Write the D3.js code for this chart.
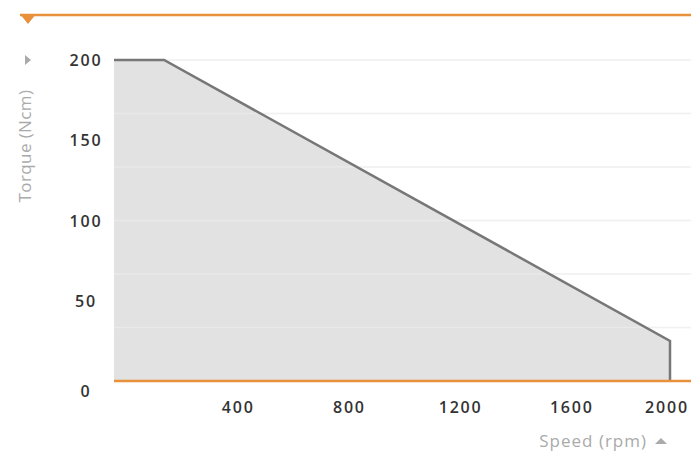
<!DOCTYPE html>
<html><head><meta charset="utf-8">
<script src="https://cdn.jsdelivr.net/npm/d3@7"></script>
<style>body{margin:0;background:#fff;}svg{display:block;}</style>
</head><body>
<svg id="c" width="691" height="457"></svg>
<script>
const speed = [0, 180, 2000, 2000];
const torque = [200, 200, 25, 0];
const xTicks = [400, 800, 1200, 1600, 2000];
const yTicks = [0, 50, 100, 150, 200];
const yGrid = [0, 33.33, 66.67, 100, 133.33, 166.67, 200];
const xTitle = "Speed (rpm)";
const yTitle = "Torque (Ncm)";

const svg = d3.select("#c");
const x = d3.scaleLinear().domain([0, 2000]).range([114, 670]);
const y = d3.scaleLinear().domain([0, 200]).range([381, 60]);
const orange = "#e8913a";
const font = "'Open Sans', Lato, sans-serif";

// grid
svg.append("g").selectAll("line").data(yGrid).join("line")
  .attr("x1", 114).attr("x2", 691)
  .attr("y1", d => y(d)).attr("y2", d => y(d))
  .attr("stroke", "#ececec").attr("stroke-width", 1.5);

const pts = speed.map((s, i) => [s, torque[i]]);
svg.append("path").datum(pts)
  .attr("d", d3.area().x(d => x(d[0])).y0(y(0)).y1(d => y(d[1])))
  .attr("fill", "#e2e2e2");
svg.append("g").selectAll("line").data(yGrid.slice(1)).join("line")
  .attr("x1", 114).attr("x2", 691)
  .attr("y1", d => y(d)).attr("y2", d => y(d))
  .attr("stroke", "#ffffff").attr("stroke-opacity", 0.25).attr("stroke-width", 1.5);
svg.append("path").datum(pts)
  .attr("d", d3.line().x(d => x(d[0])).y(d => y(d[1])))
  .attr("fill", "none").attr("stroke", "#777").attr("stroke-width", 2.5);

// x axis line
svg.append("line").attr("x1", 114).attr("x2", 691).attr("y1", y(0)).attr("y2", y(0))
  .attr("stroke", orange).attr("stroke-width", 2.5);
// top line
svg.append("line").attr("x1", 20).attr("x2", 691).attr("y1", 15).attr("y2", 15)
  .attr("stroke", orange).attr("stroke-width", 2.5);
svg.append("path").attr("d", "M20,14 L36,14 L28,24 Z").attr("fill", orange);

// x tick labels
svg.append("g").selectAll("text").data(xTicks).join("text")
  .attr("x", d => Math.min(x(d) + 13, 667))
  .attr("y", 413)
  .attr("text-anchor", "middle")
  .attr("font-family", font).attr("font-size", 16).attr("font-weight", 600)
  .attr("letter-spacing", 1.8)
  .attr("fill", "#333").text(d => d);
// y tick labels
svg.append("g").selectAll("text").data(yTicks).join("text")
  .attr("x", 86)
  .attr("y", d => d === 0 ? y(d) + 16 : y(d) + 6)
  .attr("text-anchor", "middle")
  .attr("font-family", font).attr("font-size", 16).attr("font-weight", 600)
  .attr("letter-spacing", 1.8)
  .attr("fill", "#333").text(d => d);

// titles
svg.append("text").attr("transform", "translate(31,146) rotate(-90)")
  .attr("text-anchor", "middle")
  .attr("font-family", font).attr("font-size", 17).attr("letter-spacing", 0.4)
  .attr("fill", "#aaa").text(yTitle);
svg.append("path").attr("d", "M25,55 L31,60 L25,65 Z").attr("fill", "#aaa");
svg.append("text").attr("x", 647).attr("y", 447).attr("text-anchor", "end")
  .attr("font-family", font).attr("font-size", 17).attr("letter-spacing", 1)
  .attr("fill", "#aaa").text(xTitle);
svg.append("path").attr("d", "M655,444 L667,444 L661,438 Z").attr("fill", "#aaa");
</script>
</body></html>
